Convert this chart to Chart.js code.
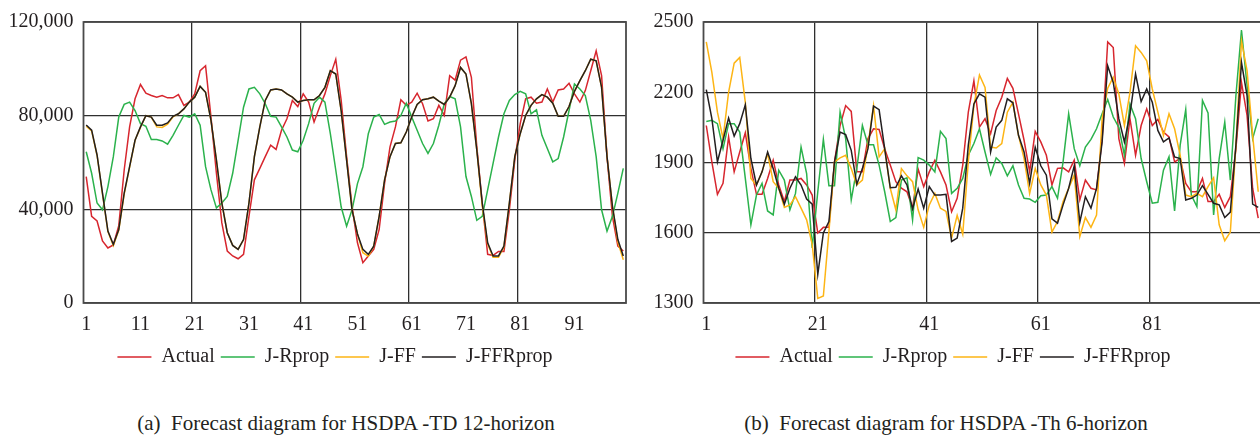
<!DOCTYPE html>
<html>
<head>
<meta charset="utf-8">
<script src="https://cdn.jsdelivr.net/npm/chart.js@4/dist/chart.umd.min.js"></script>
<style>
  html, body { margin: 0; padding: 0; background: #fff; }
  body { width: 1260px; height: 435px; overflow: hidden; position: relative; }
  canvas { position: absolute; top: 0; }
  #chartA { left: 0; }
  #chartB { left: 640px; }
  .caption {
    position: absolute; top: 411px; white-space: pre;
    font-family: "Liberation Serif", "Times New Roman", serif;
    font-size: 21px; line-height: 24px; color: #231f20;
    transform: translateX(-50%);
  }
</style>
</head>
<body>
<canvas id="chartA" width="640" height="377"></canvas>
<canvas id="chartB" width="640" height="377"></canvas>
<div class="caption" style="left: 346px;">(a)  Forecast diagram for HSDPA -TD 12-horizon</div>
<div class="caption" style="left: 946px;">(b)  Forecast diagram for HSDPA -Th 6-horizon</div>
<script>
var seriesNames = ["Actual", "J-Rprop", "J-FF", "J-FFRprop"];
var seriesColors = ["#d7262e", "#2bb24c", "#fdb515", "#231f20"];

// (a) HSDPA-TD 12-horizon
var tdActual = [54000, 37000, 35000, 26500, 23500, 24800, 33000, 56800, 75200, 87200,
  93300, 89600, 88600, 87900, 88600, 87600, 87600, 89000, 84400, 85800,
  89300, 99200, 101300, 79400, 55400, 34200, 22200, 20100, 18900, 20800,
  37000, 52600, 57500, 62500, 67400, 65600, 73800, 78700, 86500, 83900,
  89300, 85800, 77300, 83600, 89300, 97100, 104100, 86500, 62500, 41300,
  25700, 17200, 20100, 22900, 31400, 51200, 66700, 75200, 86800, 84400,
  85800, 89600, 85100, 77700, 78700, 84400, 80100, 97100, 95200, 103700,
  105100, 96400, 66700, 42700, 20800, 20300, 22000, 22000, 39800, 61000,
  76600, 87200, 87900, 85300, 85800, 91400, 85800, 91000, 91400, 93800,
  89300, 85800, 90700, 99200, 107700, 97100, 62500, 37000, 24300, 22200];
var tdRprop = [64600, 55400, 42700, 39800, 49700, 62500, 79400, 84800, 85800, 82200,
  76600, 75500, 69800, 69800, 69200, 67800, 71600, 75900, 80100, 79400,
  80800, 75900, 58200, 48300, 40600, 42700, 45500, 55400, 69500, 83600,
  91400, 92100, 89300, 85100, 79700, 79400, 75200, 70900, 65300, 64600,
  69500, 76600, 85300, 87900, 85800, 72300, 56800, 41000, 32800, 39800,
  51000, 58200, 72300, 79400, 80500, 76300, 77300, 77700, 80100, 85300,
  79400, 73800, 68100, 63900, 68100, 75900, 85100, 88200, 87200, 75200,
  54000, 45500, 35300, 37000, 48300, 59600, 70900, 80800, 86500, 89000,
  90400, 89300, 80800, 82500, 71600, 66000, 60300, 61700, 70900, 82200,
  93500, 91400, 88600, 78000, 62500, 39800, 30700, 37000, 46900, 57500];
var tdFF = [75500, 73500, 63000, 46500, 30500, 24500, 31000, 46500, 58000, 69500,
  75000, 80000, 79400, 75200, 75000, 76400, 79500, 80800, 82900, 85800,
  87900, 92500, 90000, 78000, 61000, 42700, 30000, 24600, 22900, 27100,
  42700, 62500, 75200, 86500, 91000, 91400, 91000, 89300, 87900, 85800,
  86500, 86800, 86800, 88600, 92100, 99200, 97800, 82000, 61000, 39800,
  29500, 21500, 20000, 24300, 37000, 52600, 62500, 68100, 68400, 73000,
  79400, 84800, 86800, 87200, 87900, 86200, 84800, 87900, 92800, 100600,
  97800, 85100, 65300, 41500, 25200, 19500, 19500, 24000, 42700, 62500,
  72300, 80100, 84400, 87200, 89000, 87900, 85300, 79700, 79700, 83900,
  90400, 95000, 99200, 104100, 103400, 92100, 62500, 41300, 26000, 18500];
var tdFFRprop = [76000, 73800, 63200, 46900, 30700, 25000, 31400, 46900, 58200, 69500,
  75200, 80000, 79400, 75900, 75900, 76900, 79700, 80800, 82900, 85800,
  87900, 92500, 90000, 78000, 61000, 42700, 30000, 24600, 22900, 27100,
  42700, 62500, 75200, 86500, 91000, 91400, 91000, 89300, 87900, 85800,
  86500, 86800, 86800, 88600, 92100, 99200, 97800, 82000, 61000, 39800,
  29500, 22900, 20800, 24300, 37000, 52600, 62500, 68100, 68400, 73000,
  79400, 84800, 86800, 87200, 87900, 86200, 84800, 87900, 92800, 100600,
  97800, 85100, 65300, 42700, 25700, 20100, 20100, 24300, 42700, 62500,
  72300, 80100, 84400, 87200, 89000, 87900, 85300, 79700, 79700, 83900,
  90400, 95000, 99200, 104100, 103400, 92100, 62500, 41300, 27100, 20100];

// (b) HSDPA-Th 6-horizon
var thActual = [2058, 1903, 1764, 1811, 2009, 1860, 1945, 2027, 1874, 1764,
  1764, 1832, 1910, 1804, 1733, 1825, 1825, 1832, 1804, 1761,
  1599, 1623, 1623, 1903, 2058, 2143, 2118, 1860, 1860, 2002,
  2044, 2041, 1959, 1889, 1818, 1790, 1775, 1705, 1872, 1797,
  1860, 1910, 1860, 1804, 1690, 1747, 1889, 2115, 2249, 2051,
  2087, 2023, 2122, 2179, 2259, 2217, 2108, 1995, 1860, 2033,
  1988, 1931, 1804, 1875, 1877, 1860, 1910, 1740, 1825, 1790,
  1783, 2002, 2415, 2391, 2002, 1896, 2087, 1931, 2058, 2129,
  2058, 2084, 2030, 2009, 1903, 1917, 1811, 1775, 1775, 1832,
  1733, 1733, 1764, 1708, 1754, 1959, 2242, 2101, 1790, 1662];
var thRprop = [2075, 2080, 2066, 1959, 2066, 2066, 2030, 1832, 1634, 1761,
  1811, 1693, 1676, 1867, 1825, 1698, 1768, 1966, 1853, 1535,
  1775, 1999, 1801, 1801, 2115, 2002, 1740, 1874, 2058, 1976,
  1976, 1889, 1775, 1648, 1665, 1825, 1835, 1655, 1921, 1910,
  1889, 1860, 2033, 2002, 1768, 1790, 1832, 1931, 1981, 2044,
  1945, 1849, 1920, 1896, 1843, 1886, 1804, 1747, 1744, 1730,
  1758, 1761, 1797, 1747, 1903, 2108, 1959, 1886, 1966, 1999,
  2044, 2108, 2169, 2094, 2050, 1931, 2150, 2087, 1917, 1818,
  1726, 1730, 1867, 1924, 1693, 1974, 2126, 1761, 1712, 2165,
  2112, 1676, 1917, 2073, 1825, 2186, 2466, 2228, 2002, 2087];
var thFF = [2415, 2285, 2115, 2002, 2200, 2324, 2349, 2157, 1832, 1804,
  1860, 1938, 1818, 1790, 1708, 1719, 1754, 1705, 1655, 1549,
  1320, 1330, 1606, 1903, 1920, 1931, 1874, 1804, 1825, 1974,
  2143, 1924, 1959, 1790, 1698, 1874, 1843, 1818, 1698, 1623,
  1719, 1768, 1705, 1691, 1577, 1674, 1594, 1903, 2143, 2274,
  2221, 1966, 1962, 1981, 2115, 2157, 2016, 1917, 1768, 1874,
  1804, 1761, 1603, 1648, 1733, 1790, 1846, 1584, 1665, 1623,
  1676, 2087, 2217, 2264, 2193, 2058, 2200, 2398, 2370, 2334,
  2214, 2115, 2016, 2108, 2044, 1931, 1761, 1754, 1768, 1754,
  1797, 1835, 1634, 1566, 1603, 1974, 2419, 2292, 2016, 1775];
var thFFRprop = [2211, 2087, 1903, 1995, 2090, 2013, 2066, 2146, 1917, 1804,
  1860, 1945, 1874, 1790, 1722, 1790, 1839, 1804, 1744, 1722,
  1422, 1599, 1648, 1903, 2030, 2019, 1952, 1807, 1874, 1959,
  2141, 2126, 1959, 1792, 1794, 1843, 1804, 1702, 1787, 1705,
  1797, 1761, 1761, 1764, 1563, 1577, 1705, 1974, 2150, 2193,
  2179, 1945, 2051, 2080, 2172, 2155, 2016, 1945, 1811, 1966,
  1886, 1846, 1659, 1641, 1719, 1790, 1886, 1645, 1754, 1705,
  1790, 1988, 2313, 2242, 2087, 1988, 2108, 2278, 2160, 2214,
  2157, 2037, 1988, 2005, 1924, 1917, 1740, 1747, 1761, 1801,
  1764, 1726, 1719, 1665, 1688, 1974, 2327, 2186, 1722, 1708];

// x categories are the sample numbers 1..100
var samples = [];
for (var n = 1; n <= 100; n++) samples.push(String(n));

var tdTicks = { min: 0, max: 120000, step: 40000, labelEvery: 10 };
var thTicks = { min: 1300, max: 2500, step: 300, labelEvery: 20 };

var fontFamily = "'Liberation Serif', 'Times New Roman', serif";
var textColor = "#231f20";
var gridColor = "#2f2f2f";

var framePlugin = {
  id: "frame",
  afterDatasetsDraw: function (chart) {
    var a = chart.chartArea;
    var ctx = chart.ctx;
    ctx.save();
    ctx.strokeStyle = "#4a4a4a";
    ctx.lineWidth = 1.8;
    ctx.strokeRect(a.left, a.top, a.right - a.left, a.bottom - a.top);
    ctx.restore();
  },
};

// the legend sits a bit off the plot centre in the original
var legendShiftPlugin = {
  id: "legendShift",
  afterLayout: function (chart, args, opts) {
    if (!chart.legend || !opts.dx) return;
    chart.legend.left += opts.dx;
    chart.legend.right += opts.dx;
  },
};

function buildDatasets(values) {
  return values.map(function (data, i) {
    return {
      label: seriesNames[i],
      data: data,
      borderColor: seriesColors[i],
      backgroundColor: seriesColors[i],
      borderWidth: 1.5,
      pointRadius: 0,
      tension: 0,
      fill: false,
      order: 4 - i,
    };
  });
}

function makeChart(id, values, yTicks, pad, yWidth, legendDx, formatY) {
  return new Chart(document.getElementById(id), {
    type: "line",
    data: { labels: samples, datasets: buildDatasets(values) },
    plugins: [framePlugin, legendShiftPlugin],
    options: {
      responsive: false,
      animation: false,
      layout: { padding: pad },
      plugins: {
        tooltip: { enabled: false },
        legendShift: { dx: legendDx },
        legend: {
          position: "bottom",
          labels: {
            usePointStyle: true,
            pointStyle: "line",
            pointStyleWidth: 34,
            padding: 6,
            color: textColor,
            font: { family: fontFamily, size: 20 },
            sort: function (a, b) { return a.datasetIndex - b.datasetIndex; },
          },
        },
      },
      scales: {
        x: {
          type: "category",
          offset: true,
          afterFit: function (scale) { scale.height = 38; },
          border: { display: false },
          grid: {
            offset: true,
            drawTicks: false,
            lineWidth: 1.3,
            color: function (ctx) {
              return ctx.index > 0 && ctx.index % 20 === 0 ? gridColor : "rgba(0,0,0,0)";
            },
          },
          ticks: {
            autoSkip: false,
            maxRotation: 0,
            minRotation: 0,
            padding: 10,
            color: textColor,
            font: { family: fontFamily, size: 20 },
            callback: function (value, index) {
              return index % yTicks.labelEvery === 0 ? this.getLabelForValue(value) : "";
            },
          },
        },
        y: {
          min: yTicks.min,
          max: yTicks.max,
          afterFit: function (scale) { scale.width = yWidth; },
          border: { display: false },
          grid: { drawTicks: false, lineWidth: 1.3, color: gridColor },
          ticks: {
            stepSize: yTicks.step,
            padding: 10,
            color: textColor,
            font: { family: fontFamily, size: 20 },
            callback: formatY,
          },
        },
      },
    },
  });
}

makeChart("chartA", [tdActual, tdRprop, tdFF, tdFFRprop], tdTicks,
  { left: 0, right: 14, top: 19, bottom: 0 }, 83.5, 22,
  function (v) { return v.toLocaleString("en-US"); });

makeChart("chartB", [thActual, thRprop, thFF, thFFRprop], thTicks,
  { left: 5, right: 19, top: 19, bottom: 0 }, 58.5, 0,
  function (v) { return String(v); });
</script>
</body>
</html>
